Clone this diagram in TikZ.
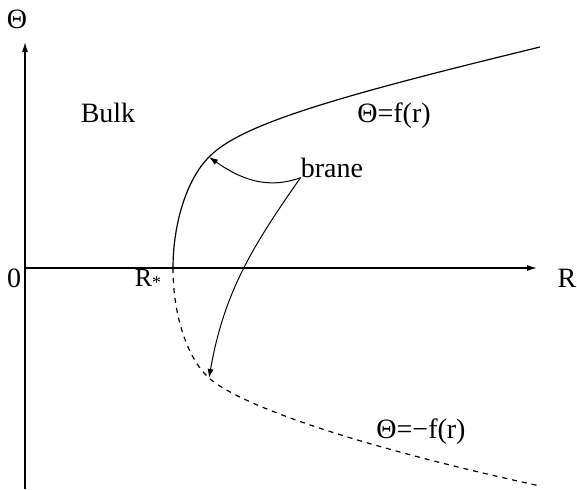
\documentclass[tikz,border=0pt]{standalone}
\usepackage{fontspec}
\setmainfont{Liberation Serif}
\usepackage{tikz}
\usetikzlibrary{arrows.meta, positioning}

\begin{document}
\begin{tikzpicture}[
    x=0.5pt, y=-0.5pt,
    axis/.style={draw, line width=0.6pt, -{Latex[length=5pt, width=3pt]}},
    branecurve/.style={draw, line width=0.6pt},
    mirrorcurve/.style={branecurve, dash pattern=on 2.5pt off 2.5pt},
    pointer/.style={draw, line width=0.5pt, -{Latex[length=4.5pt, width=3pt]}},
    lbl/.style={inner sep=0pt, anchor=base, font=\fontsize{14}{16}\selectfont}
]
    \useasboundingbox (0,0) rectangle (577,489);
    \coordinate (o) at (25,268);
    \coordinate (ytop) at (25,42);
    \coordinate (ybot) at (25,489);
    \coordinate (xend) at (537,268);
    \draw[axis] (ybot) -- (ytop);
    \draw[axis] (o) -- (xend);

    \coordinate (rs) at (173,268);
    \coordinate (up) at (209,157);
    \coordinate (down) at (209,378);
    \draw[branecurve] (rs) .. controls (173,225) and (186,180) .. (up)
        .. controls (240,125) and (330,98) .. (540,47);
    \draw[mirrorcurve] (rs) .. controls (173,315) and (187,358) .. (down)
        .. controls (235,401) and (330,440) .. (540,486);

    \node[lbl] (theta) at (17,28) {Θ};
    \node[lbl] (bulk) at (108,122) {Bulk};
    \node[lbl] (fplus) at (394,122) {Θ=f(r)};
    \node[lbl] (brane) at (332,177) {brane};
    \node[lbl] (zero) at (14,287) {0};
    \node[lbl] (rlab) at (567,287) {R};
    \node[lbl, font=\fontsize{13}{15}\selectfont] (rstar) at (148,286) {R\raisebox{-1pt}{\fontsize{9}{9}\selectfont *}};
    \node[lbl] (fminus) at (421,438) {Θ=−f(r)};

    \draw[pointer] (brane.south west) to[out=200, in=-35] (up);
    \draw[pointer] (brane.south west) to[out=235, in=80] (down);
\end{tikzpicture}
\end{document}
